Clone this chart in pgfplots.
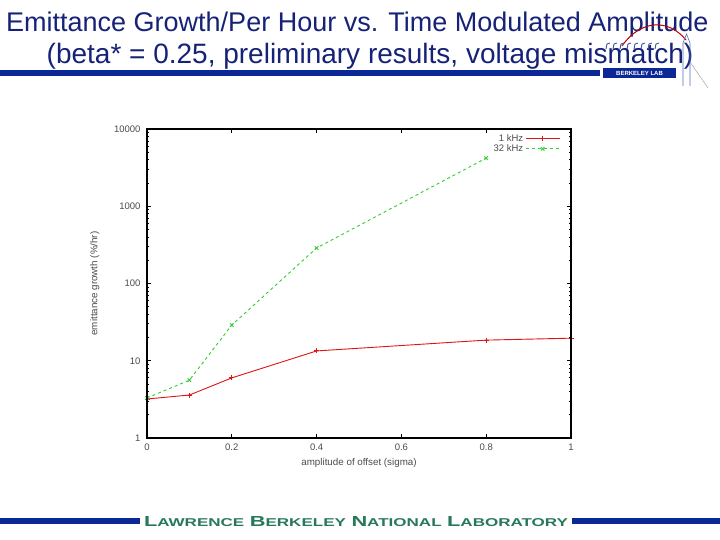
\documentclass[border=0pt]{standalone}
\usepackage{fontspec}
\setmainfont{Liberation Sans}
\usepackage{graphicx}
\usepackage{pgfplots}
\pgfplotsset{compat=1.18}

\definecolor{titleblue}{RGB}{22,34,120}
\definecolor{barblue}{RGB}{12,40,150}
\definecolor{labgreen}{RGB}{40,120,90}
\definecolor{gpred}{RGB}{225,20,20}
\definecolor{gpgreen}{RGB}{50,205,50}

\newcommand{\labcaps}[1]{{\fontsize{11}{11}\selectfont #1}}
\newcommand{\labsmall}[1]{{\fontsize{8.6}{9}\selectfont #1}}

\begin{document}
\begin{tikzpicture}
\begin{scope}[x=1pt,y=-1pt]
  \useasboundingbox (0,0) rectangle (720,540);
  \clip (0,0) rectangle (720,540);
  \fill[white] (0,0) rectangle (720,540);

  % slide title
  \node[anchor=base west, inner sep=0, text=titleblue,
        font=\fontsize{27}{32}\selectfont] at (6,32)
        {Emittance Growth/Per Hour vs. Time Modulated Amplitude};
  \node[anchor=base, inner sep=0, text=titleblue,
        font=\fontsize{28}{32}\selectfont] at (370,64)
        {(beta* = 0.25, preliminary results, voltage mismatch)};

  % header rule and lab logo
  \fill[barblue] (0,70) rectangle (600,76);
  \draw[red!75!black, line width=1pt] (622,46) .. controls (640,20) and (668,18) .. (686,40);
  \foreach \i in {0,...,7}{
    \draw[barblue!80, line width=0.9pt] (606+\i*7,49) -- (607+\i*7,44) -- (610+\i*7,43);
  }
  \draw[barblue!70, line width=0.6pt] (683,86) -- (683,43) -- (686.5,34) -- (690,43) -- (690,86);
  \draw[gray!70, line width=0.5pt] (690,62) -- (708,88);
  \fill[barblue] (603,68) rectangle (676,78);
  \node[text=white, inner sep=0, font=\fontsize{6}{6}\selectfont\bfseries] at (639.5,73.2) {BERKELEY LAB};

  % footer
  \fill[barblue] (0,518) rectangle (140,524);
  \fill[barblue] (572,518) rectangle (720,524);
  \node[anchor=base, inner sep=0, text=labgreen] at (356,526)
    {\resizebox{424pt}{10pt}{\bfseries\labcaps{L}\labsmall{AWRENCE} \labcaps{B}\labsmall{ERKELEY} \labcaps{N}\labsmall{ATIONAL} \labcaps{L}\labsmall{ABORATORY}}};
\end{scope}

\begin{axis}[
  at={(147pt,-438pt)}, anchor=south west,
  scale only axis, width=424pt, height=309pt,
  xmin=0, xmax=1,
  ymode=log, ymin=1, ymax=10000,
  xtick={0,0.2,0.4,0.6,0.8,1},
  xticklabels={0,0.2,0.4,0.6,0.8,1},
  ytick={1,10,100,1000,10000},
  yticklabels={1,10,100,1000,10000},
  tick align=inside,
  major tick length=4pt, minor tick length=2pt,
  tick style={black, line width=0.9pt},
  /pgf/number format/assume math mode=true,
  tick label style={font=\fontsize{9.5}{10}\selectfont, text=black!70},
  xticklabel style={yshift=-2pt},
  yticklabel style={xshift=-3pt},
  label style={font=\fontsize{9.8}{10}\selectfont, text=black!70},
  xlabel={amplitude of offset (sigma)},
  ylabel={emittance growth (\%/hr)},
  xlabel style={at={(axis description cs:0.5,-0.081)}, anchor=center},
  ylabel style={at={(axis description cs:-0.123,0.5)}, anchor=center},
  legend style={at={(0.975,0.99)}, anchor=north east, draw=none, fill=none,
    inner sep=0pt, row sep=-2pt, font=\fontsize{9.5}{10}\selectfont, text=black!70,
    /tikz/every even column/.append style={column sep=7pt}},
  legend plot pos=right,
  legend cell align=right,
  legend image code/.code={\draw[mark repeat=2,mark phase=2] plot coordinates {(0cm,0cm) (0.6cm,0cm) (1.2cm,0cm)};},
  after end axis/.code={\draw[black, line width=2pt] (rel axis cs:0,0) rectangle (rel axis cs:1,1);},
]
\addplot[gpred, line width=0.9pt, mark=+, mark size=2.5pt, mark options={solid}]
  coordinates {(0,3.2) (0.1,3.6) (0.2,6.0) (0.4,13.4) (0.8,18.5) (1.0,19.6)};
\addlegendentry{1 kHz}
\addplot[gpgreen, line width=0.9pt, dashed, mark=x, mark size=2.5pt, mark options={solid}]
  coordinates {(0,3.3) (0.1,5.6) (0.2,29) (0.4,288) (0.8,4200)};
\addlegendentry{32 kHz}
\end{axis}
\end{tikzpicture}
\end{document}
